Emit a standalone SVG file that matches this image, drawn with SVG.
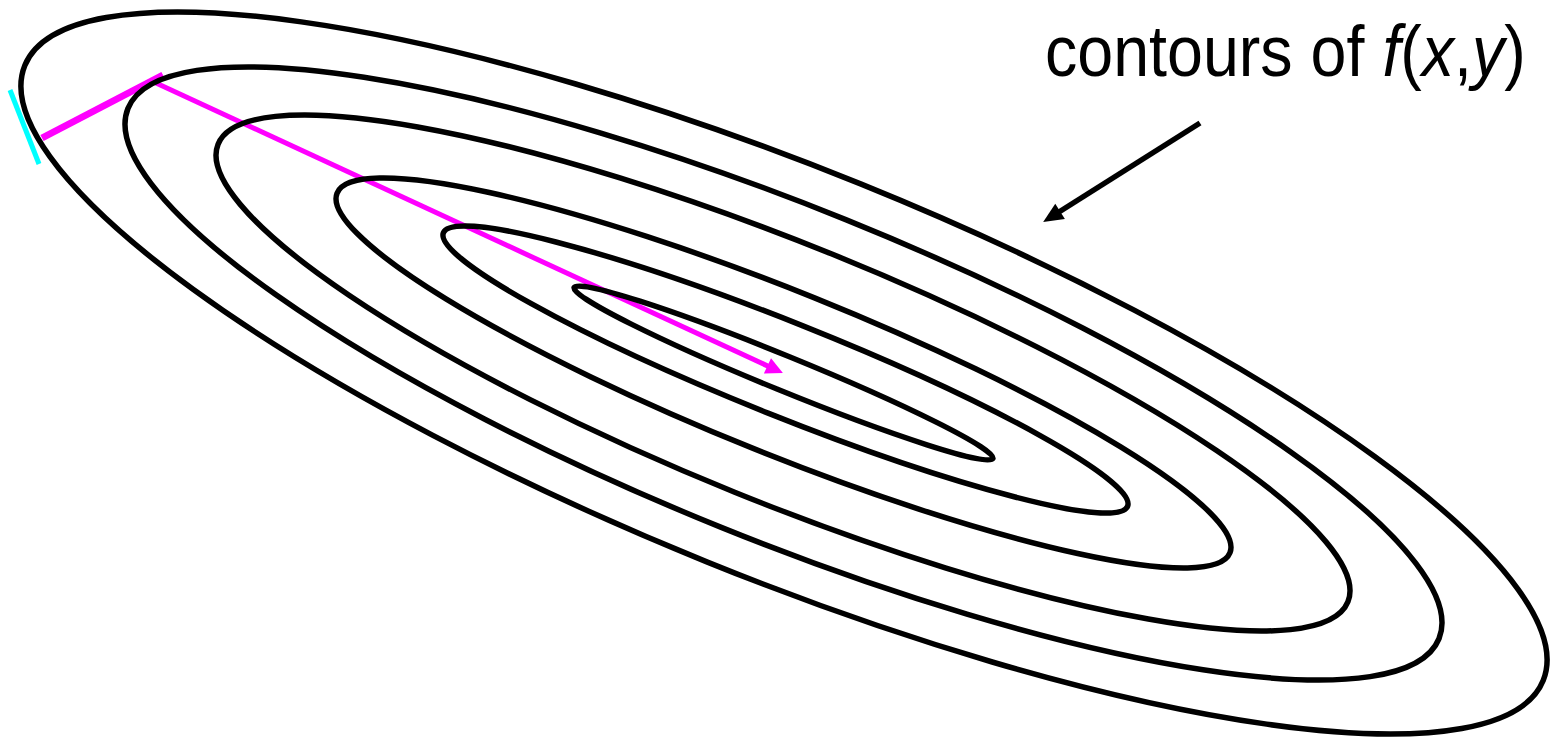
<svg xmlns="http://www.w3.org/2000/svg" width="1552" height="739" viewBox="0 0 1552 739">
<style>
.contour{fill:none;stroke:#000;stroke-width:5.5}
.grad{fill:none;stroke:#ff00ff;stroke-linecap:butt}
.tangent{fill:none;stroke:#00ffff;stroke-width:5}
.pointer{fill:none;stroke:#000;stroke-width:5.5}
.label{font-family:"Liberation Sans",Arial,sans-serif;font-size:72px;fill:#000}
.it{font-style:italic}
</style>
<defs>
<marker id="headMagenta" markerUnits="userSpaceOnUse" viewBox="-20 -10 20 20" markerWidth="20" markerHeight="20" refX="-12" refY="0" orient="auto" overflow="visible">
<path d="M0,0 L-17,-8.5 L-17,8.5 Z" fill="#ff00ff"/>
</marker>
<marker id="headBlack" markerUnits="userSpaceOnUse" viewBox="-22 -10 22 20" markerWidth="22" markerHeight="20" refX="-14" refY="0" orient="auto" overflow="visible">
<path d="M0,0 L-20,-9 L-20,9 Z" fill="#000"/>
</marker>
</defs>
<rect width="1552" height="739" fill="#fff"/>
<g id="descent-path">
<line class="tangent" x1="10" y1="90" x2="39" y2="164"/>
<line class="grad" stroke-width="7" x1="42" y1="138" x2="163" y2="75"/>
<line class="grad" stroke-width="5" x1="156" y1="83" x2="772" y2="368" marker-end="url(#headMagenta)"/>
</g>
<g id="contours">
<ellipse id="c6" class="contour" cx="0" cy="0" rx="819.1" ry="204" transform="translate(784 373) rotate(22.05)"/>
<ellipse id="c5" class="contour" cx="0" cy="0" rx="707.1" ry="166" transform="translate(783.5 373.5) rotate(22.02)"/>
<ellipse id="c4" class="contour" cx="0" cy="0" rx="609.5" ry="128.6" transform="translate(783 373) rotate(22.05)"/>
<ellipse id="c3" class="contour" cx="0" cy="0" rx="481.3" ry="81.3" transform="translate(783.5 373) rotate(21.94)"/>
<ellipse id="c2" class="contour" cx="0" cy="0" rx="368.4" ry="47" transform="translate(785.5 369.5) rotate(21.78)"/>
<ellipse id="c1" class="contour" cx="0" cy="0" rx="226.2" ry="17.3" transform="translate(783.5 373) rotate(22.21)"/>
</g>
<g id="annotation">
<line class="pointer" x1="1200" y1="123" x2="1055" y2="214.5" marker-end="url(#headBlack)"/>
<text class="label" transform="translate(1045 76) scale(0.897 1)" x="0" y="0">contours of <tspan class="it">f</tspan>(<tspan class="it">x</tspan>,<tspan class="it">y</tspan>)</text>
</g>
</svg>
